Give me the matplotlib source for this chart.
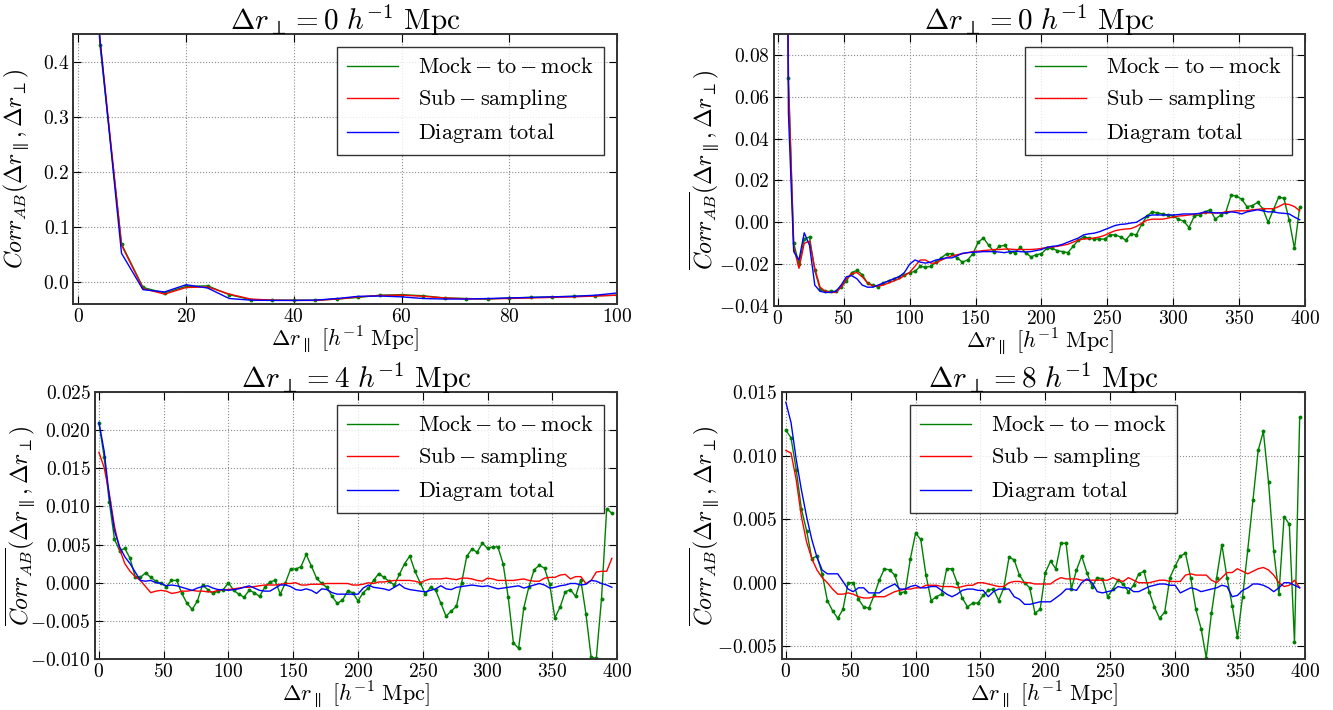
import numpy as np
import matplotlib
matplotlib.use('Agg')
import matplotlib.pyplot as plt
from matplotlib.ticker import MultipleLocator

plt.rcParams['font.family'] = 'serif'
plt.rcParams['font.serif'] = ['cmr10']
plt.rcParams['mathtext.fontset'] = 'cm'
plt.rcParams['axes.formatter.use_mathtext'] = True

# separation bins along the line of sight [h^-1 Mpc]
r_par = np.arange(0, 400, 4)

# delta r_perp = 0
mock_0 = [1.0, 0.43, 0.069, -0.010, -0.020, -0.008, -0.007, -0.023, -0.032, -0.033,
          -0.033, -0.033, -0.031, -0.028, -0.024, -0.023, -0.025, -0.029, -0.030, -0.031,
          -0.029, -0.028, -0.027, -0.026, -0.025, -0.024, -0.0235, -0.021, -0.0215, -0.021,
          -0.019, -0.017, -0.015, -0.015, -0.017, -0.019, -0.018, -0.015, -0.0095, -0.0075,
          -0.011, -0.014, -0.0115, -0.011, -0.014, -0.0145, -0.012, -0.0145, -0.0165, -0.0155,
          -0.015, -0.0125, -0.0125, -0.0135, -0.014, -0.0145, -0.0115, -0.0085, -0.007, -0.0075,
          -0.008, -0.008, -0.008, -0.006, -0.006, -0.007, -0.0085, -0.0055, -0.006, -0.001,
          0.003, 0.005, 0.0045, 0.004, 0.0035, 0.003, 0.0015, 0.0005, -0.0025, 0.003,
          0.0035, 0.005, 0.006, 0.0015, 0.0035, 0.005, 0.013, 0.0125, 0.011, 0.0075,
          0.008, 0.0095, 0.0065, 0.0, 0.006, 0.012, 0.0115, 0.001, -0.0125, 0.0075]
sub_0 = [1.0, 0.44, 0.067, -0.012, -0.022, -0.010, -0.009, -0.022, -0.031, -0.033,
         -0.0335, -0.0335, -0.031, -0.027, -0.0245, -0.024, -0.026, -0.029, -0.0305, -0.0305,
         -0.030, -0.029, -0.028, -0.027, -0.0255, -0.024, -0.021, -0.018, -0.018, -0.0195,
         -0.0195, -0.018, -0.017, -0.016, -0.0155, -0.015, -0.0145, -0.014, -0.0138, -0.0135,
         -0.0133, -0.013, -0.013, -0.0128, -0.0128, -0.013, -0.013, -0.013, -0.013, -0.0128,
         -0.0125, -0.012, -0.0118, -0.0115, -0.011, -0.0105, -0.0095, -0.0085, -0.008, -0.0078,
         -0.0075, -0.007, -0.0062, -0.005, -0.004, -0.0035, -0.0032, -0.003, -0.002, -0.0005,
         0.001, 0.0015, 0.0015, 0.0015, 0.002, 0.0025, 0.003, 0.0032, 0.0035, 0.0038,
         0.0042, 0.0045, 0.0045, 0.0045, 0.0045, 0.005, 0.0052, 0.0055, 0.0055, 0.0055,
         0.006, 0.0062, 0.0065, 0.0065, 0.0065, 0.0075, 0.0088, 0.0085, 0.0075, 0.0055]
diag_0 = [1.0, 0.44, 0.052, -0.014, -0.018, -0.005, -0.011, -0.030, -0.033, -0.0335,
          -0.0335, -0.033, -0.030, -0.026, -0.0255, -0.027, -0.030, -0.031, -0.031, -0.030,
          -0.029, -0.028, -0.027, -0.026, -0.024, -0.020, -0.018, -0.019, -0.0195, -0.019,
          -0.018, -0.0175, -0.017, -0.017, -0.016, -0.0148, -0.0145, -0.0143, -0.0142, -0.014,
          -0.014, -0.014, -0.0142, -0.0145, -0.014, -0.0138, -0.014, -0.0142, -0.014, -0.0135,
          -0.013, -0.012, -0.0115, -0.0112, -0.0105, -0.0095, -0.0085, -0.0075, -0.006, -0.0055,
          -0.0052, -0.0045, -0.0035, -0.0025, -0.0015, -0.001, -0.0008, -0.0003, 0.0, 0.0015,
          0.003, 0.0035, 0.0035, 0.0035, 0.0035, 0.0035, 0.0037, 0.004, 0.004, 0.004,
          0.0043, 0.005, 0.0048, 0.0045, 0.0045, 0.0045, 0.005, 0.0047, 0.004, 0.005,
          0.0055, 0.006, 0.0055, 0.005, 0.005, 0.0045, 0.0043, 0.004, 0.0025, 0.0012]

# delta r_perp = 4
mock_4 = [0.0210, 0.0165, 0.0106, 0.0057, 0.0042, 0.0045, 0.0032, 0.0008, 0.0007, 0.0013,
          0.0007, 0.0002, -0.0001, -0.0005, 0.0003, 0.0003, -0.0014, -0.0027, -0.0035, -0.0024,
          -0.0003, -0.0009, -0.0014, -0.0011, -0.0009, 0.0, -0.0010, -0.0015, -0.0019, -0.0010,
          -0.0013, -0.0018, -0.0006, 0.0001, 0.0003, -0.0015, 0.0, 0.0018, 0.0018, 0.0021,
          0.0037, 0.0022, 0.0006, -0.0001, -0.0006, -0.0018, -0.0027, -0.0023, -0.0011, -0.0013,
          -0.0024, -0.0013, -0.0007, 0.0003, 0.0012, 0.0007, 0.0002, -0.0003, 0.0011, 0.0025,
          0.0035, 0.0015, 0.0, -0.0015, -0.0006, -0.0010, -0.0027, -0.0044, -0.0037, -0.0031,
          0.0, 0.0035, 0.0044, 0.0040, 0.0052, 0.0045, 0.0047, 0.0047, 0.0025, -0.0019,
          -0.0079, -0.0086, -0.0033, -0.0005, 0.0017, 0.0023, 0.0019, -0.0002, -0.0046, -0.0032,
          -0.0012, -0.0009, -0.0018, 0.0004, -0.0041, -0.0098, -0.0099, -0.0021, 0.0097, 0.0091]
sub_4 = [0.0171, 0.0151, 0.0117, 0.0074, 0.0044, 0.0025, 0.0015, 0.0008, 0.0003, -0.0005,
         -0.0013, -0.0011, -0.0010, -0.0011, -0.0014, -0.0013, -0.0011, -0.0011, -0.0010, -0.0011,
         -0.0011, -0.0012, -0.0012, -0.0010, -0.0009, -0.0009, -0.0008, -0.0007, -0.0006, -0.0006,
         -0.0005, -0.0004, -0.0003, -0.0003, -0.0003, -0.0002, -0.0001, -0.0001, 0.0, -0.0003,
         -0.0003, -0.0002, -0.0002, -0.0002, -0.0001, -0.0001, -0.0001, -0.0001, -0.0001, -0.0003,
         -0.0003, -0.0002, 0.0, -0.0001, 0.0001, 0.0001, 0.0002, 0.0003, 0.0003, 0.0003,
         0.0003, 0.0002, 0.0, 0.0003, 0.0005, 0.0005, 0.0005, 0.0006, 0.0005, 0.0004,
         0.0006, 0.0006, 0.0005, 0.0003, 0.0002, 0.0006, 0.0005, 0.0003, 0.0003, 0.0003,
         0.0003, 0.0004, 0.0005, 0.0003, 0.0002, 0.0002, 0.0006, 0.0007, 0.0007, 0.0010,
         0.0011, 0.0005, 0.0008, 0.0008, -0.0001, 0.0003, 0.0014, 0.0015, 0.0015, 0.0032]
diag_4 = [0.0210, 0.0173, 0.0113, 0.0068, 0.0047, 0.0034, 0.0025, 0.0014, 0.0003, 0.0002,
          0.0003, 0.0, -0.0001, -0.0004, -0.0003, -0.0004, -0.0006, -0.0008, -0.0010, -0.0007,
          -0.0005, -0.0004, -0.0007, -0.0009, -0.0009, -0.0010, -0.0009, -0.0008, -0.0006, -0.0004,
          -0.0007, -0.0010, -0.0011, -0.0011, -0.0007, -0.0003, -0.0003, -0.0005, -0.0009, -0.0010,
          -0.0008, -0.0010, -0.0014, -0.0008, -0.0009, -0.0013, -0.0015, -0.0015, -0.0015, -0.0015,
          -0.0015, -0.0007, -0.0003, -0.0006, -0.0007, -0.0008, -0.0010, -0.0006, -0.0002, -0.0007,
          -0.0009, -0.0010, -0.0011, -0.0012, -0.0010, -0.0008, -0.0004, -0.0008, -0.0009, -0.0006,
          -0.0005, -0.0004, -0.0003, -0.0004, -0.0005, -0.0004, -0.0006, -0.0008, -0.0007, -0.0006,
          -0.0005, -0.0004, -0.0007, -0.0005, -0.0003, -0.0001, -0.0003, -0.0007, -0.0006, -0.0004,
          -0.0003, -0.0001, -0.0001, -0.0003, -0.0002, 0.0003, 0.0002, -0.0001, -0.0003, -0.0006]

# delta r_perp = 8
mock_8 = [0.0120, 0.0114, 0.0089, 0.0058, 0.0041, 0.0019, 0.0021, 0.0007, -0.0014, -0.0022,
          -0.0028, -0.0021, 0.0, 0.0, -0.0013, -0.0019, -0.0020, -0.0010, 0.0002, 0.0011,
          0.0010, 0.0006, -0.0008, -0.0007, 0.0019, 0.0039, 0.0034, 0.0006, -0.0014, -0.0011,
          -0.0009, 0.0011, 0.0011, 0.0, -0.0012, -0.0019, -0.0016, -0.0016, -0.0010, -0.0006,
          -0.0005, -0.0014, -0.0004, 0.0020, 0.0018, 0.0006, 0.0, -0.0004, -0.0024, -0.0021,
          0.0008, 0.0017, 0.0011, 0.0031, 0.0031, -0.0005, 0.0010, 0.0021, 0.0008, -0.0003,
          0.0004, 0.0003, -0.0011, -0.0005, 0.0002, -0.0001, -0.0007, -0.0002, 0.0007, 0.0009,
          -0.0007, -0.0019, -0.0028, -0.0023, 0.0004, 0.0013, 0.0021, 0.0023, 0.0004, -0.0021,
          -0.0036, -0.0059, -0.0024, 0.0004, 0.0030, 0.0004, -0.0018, -0.0043, -0.0011, 0.0026,
          0.0065, 0.0104, 0.0119, 0.0079, 0.0025, -0.0009, 0.0052, 0.0046, -0.0047, 0.0130]
sub_8 = [0.0104, 0.0102, 0.0081, 0.0052, 0.0032, 0.0019, 0.0010, 0.0004, 0.0, -0.0005,
         -0.0009, -0.0009, -0.0008, -0.0009, -0.0011, -0.0012, -0.0012, -0.0011, -0.0011, -0.0011,
         -0.0009, -0.0007, -0.0006, -0.0005, -0.0005, -0.0004, -0.0004, -0.0002, -0.0002, -0.0002,
         -0.0003, -0.0003, -0.0003, -0.0004, -0.0003, -0.0002, -0.0002, 0.0, 0.0, -0.0001,
         -0.0002, -0.0003, -0.0003, 0.0, 0.0001, 0.0001, 0.0, 0.0, -0.0001, -0.0001,
         -0.0001, -0.0001, 0.0002, 0.0004, 0.0003, 0.0003, 0.0003, 0.0002, 0.0002, 0.0002,
         0.0002, 0.0002, 0.0002, 0.0004, 0.0002, 0.0001, 0.0004, 0.0002, 0.0, 0.0,
         0.0, 0.0001, 0.0002, 0.0002, 0.0001, 0.0001, 0.0001, 0.0006, 0.0007, 0.0006,
         0.0006, 0.0006, 0.0002, 0.0, 0.0004, 0.0008, 0.0008, 0.0011, 0.0009, 0.0007,
         0.0009, 0.0011, 0.0012, 0.0010, 0.0006, 0.0, -0.0003, -0.0002, 0.0002, -0.0004]
diag_8 = [0.0142, 0.0126, 0.0097, 0.0073, 0.0052, 0.0034, 0.0020, 0.0010, 0.0007, 0.0007,
          0.0007, 0.0001, -0.0005, -0.0007, -0.0004, -0.0004, -0.0008, -0.0008, -0.0008, -0.0005,
          -0.0003, -0.0001, -0.0005, -0.0005, -0.0003, -0.0002, -0.0004, -0.0004, -0.0003, -0.0003,
          -0.0006, -0.0009, -0.0011, -0.0009, -0.0006, -0.0005, -0.0005, -0.0006, -0.0006, -0.0011,
          -0.0007, -0.0005, -0.0005, -0.0005, -0.0011, -0.0013, -0.0017, -0.0017, -0.0016, -0.0015,
          -0.0015, -0.0015, -0.0012, -0.0009, -0.0005, -0.0005, -0.0006, 0.0, 0.0003, 0.0,
          -0.0007, -0.0008, -0.0007, -0.0006, -0.0003, -0.0004, -0.0004, -0.0007, -0.0007, -0.0005,
          -0.0003, -0.0002, -0.0001, -0.0001, -0.0002, -0.0002, -0.0008, -0.0006, -0.0004, -0.0005,
          -0.0007, -0.0006, -0.0005, -0.0004, -0.0002, -0.0003, -0.0011, -0.0010, -0.0006, -0.0004,
          -0.0001, -0.0001, -0.0002, -0.0004, -0.0007, -0.0004, 0.0, 0.0, -0.0002, -0.0004]

labels = [r'$\mathrm{Mock-to-mock}$', r'$\mathrm{Sub-sampling}$', r'$\mathrm{Diagram\ total}$']

# panel: (axes rect, data, perp sep, xlim, ylim, x step, y step, legend loc, ylabel x)
panels = [
    ([0.0548, 0.5718, 0.408, 0.3803], (mock_0, sub_0, diag_0), 0, (-1, 100), (-0.04, 0.45), 20, 0.1, 'upper right', -0.076),
    ([0.5806, 0.5690, 0.3984, 0.3831], (mock_0, sub_0, diag_0), 0, (-3, 400), (-0.04, 0.09), 50, 0.02, 'upper right', -0.098),
    ([0.0713, 0.0718, 0.3916, 0.3761], (mock_4, sub_4, diag_4), 4, (-3, 400), (-0.01, 0.025), 50, 0.005, 'upper right', -0.109),
    ([0.5866, 0.0718, 0.3923, 0.3761], (mock_8, sub_8, diag_8), 8, (-3, 400), (-0.006, 0.015), 50, 0.005, 'upper center', -0.115),
]

fig = plt.figure(figsize=(13.33, 7.10), dpi=100)

for rect, (mk, sb, dg), perp, xl, yl, xs, ys, loc, ylx in panels:
    ax = fig.add_axes(rect)
    ax.plot(r_par, mk, color='g', lw=1.0, label=labels[0])
    ax.plot(r_par, mk, 'o', color='g', ms=2.8, mew=0)
    ax.plot(r_par, sb, color='r', lw=1.0, label=labels[1])
    ax.plot(r_par, dg, color='b', lw=1.0, label=labels[2])
    ax.set_xlim(xl)
    ax.set_ylim(yl)
    ax.xaxis.set_major_locator(MultipleLocator(xs))
    ax.yaxis.set_major_locator(MultipleLocator(ys))
    ax.grid(True, color='0.55', linestyle=':', lw=0.8)
    ax.tick_params(direction='in', top=True, right=True, labelsize=14, length=6, pad=3)
    for s in ax.spines.values():
        s.set_linewidth(1.4)
        s.set_color('0.2')
    ax.set_title(r'$\Delta r_{\perp} = %d \ h^{-1} \ \mathrm{Mpc}$' % perp, fontsize=21, pad=3)
    ax.set_xlabel(r'$\Delta r_{\parallel} \ [h^{-1} \ \mathrm{Mpc}]$', fontsize=16, labelpad=-1)
    ax.set_ylabel(r'$\overline{Corr_{AB}}(\Delta r_{\parallel}, \Delta r_{\perp})$', fontsize=17)
    ax.yaxis.set_label_coords(ylx, 0.5)
    leg = ax.legend(loc=loc, fontsize=16, fancybox=False, handlelength=2.3,
                    handletextpad=0.9, labelspacing=0.45, borderpad=0.45, borderaxespad=0.6)
    leg.get_frame().set_edgecolor('k')
    leg.get_frame().set_linewidth(1.0)

plt.savefig('out.png', dpi=100)
